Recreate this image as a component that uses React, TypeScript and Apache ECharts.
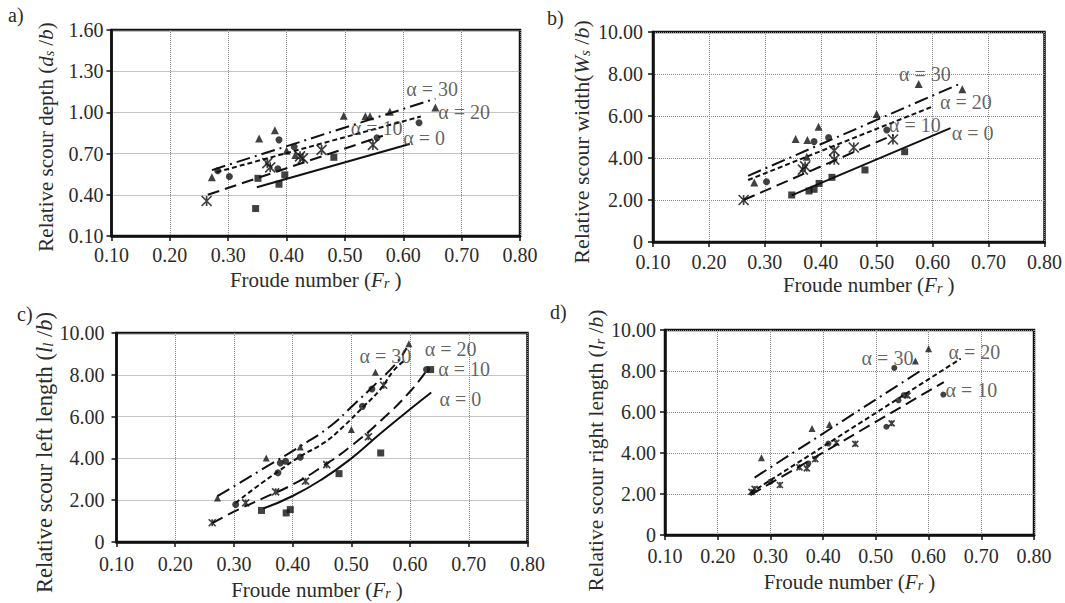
import React, { useEffect, useRef } from "react";
import * as echarts from "echarts";

const FONT = '"Liberation Serif", "DejaVu Serif", "Times New Roman", serif';
const TEXT = "#2b2b2b";
const INK = "#111111";

// ---------- tick values ----------
const depthTicks = [0.1, 0.4, 0.7, 1.0, 1.3, 1.6];

// ---------- a) relative scour depth ----------
const depthA0: number[][] = [[0.347, 0.30], [0.351, 0.52], [0.387, 0.477], [0.397, 0.545], [0.481, 0.673]];
const depthA10: number[][] = [[0.263, 0.355], [0.367, 0.63], [0.372, 0.60], [0.423, 0.68], [0.428, 0.665], [0.46, 0.727], [0.548, 0.763]];
const depthA20: number[][] = [[0.282, 0.575], [0.302, 0.533], [0.385, 0.59], [0.387, 0.80], [0.413, 0.75], [0.555, 0.815], [0.627, 0.925]];
const depthA30: number[][] = [[0.272, 0.528], [0.353, 0.81], [0.38, 0.87], [0.40, 0.72], [0.415, 0.69], [0.498, 0.975], [0.535, 0.972], [0.543, 0.972], [0.577, 1.005], [0.655, 1.035]];
const depthFit0: number[][] = [[0.349, 0.455], [0.611, 0.77]];
const depthFit10: number[][] = [[0.265, 0.40], [0.565, 0.83]];
const depthFit20: number[][] = [[0.28, 0.565], [0.63, 0.97]];
const depthFit30: number[][] = [[0.272, 0.58], [0.655, 1.10]];
const depthLabels = [
  { name: "α = 30", value: [0.605, 1.17] },
  { name: "α = 20", value: [0.66, 1.0] },
  { name: "α = 10", value: [0.51, 0.89] },
  { name: "α = 0", value: [0.60, 0.815] },
];

// ---------- b) relative scour width ----------
const widthB0: number[][] = [[0.348, 2.24], [0.379, 2.43], [0.388, 2.51], [0.397, 2.79], [0.42, 3.08], [0.479, 3.43], [0.55, 4.30]];
const widthB10: number[][] = [[0.262, 2.0], [0.368, 3.45], [0.372, 3.6], [0.424, 3.92], [0.424, 4.35], [0.459, 4.5], [0.529, 4.88]];
const widthB20: number[][] = [[0.303, 2.87], [0.388, 4.78], [0.414, 4.97], [0.518, 5.33]];
const widthB30: number[][] = [[0.281, 2.83], [0.355, 4.9], [0.376, 4.86], [0.375, 4.06], [0.396, 5.49], [0.50, 6.1], [0.575, 7.52], [0.653, 7.27]];
const widthFit0: number[][] = [[0.348, 2.22], [0.632, 5.42]];
const widthFit10: number[][] = [[0.262, 2.0], [0.53, 5.1]];
const widthFit20: number[][] = [[0.27, 2.95], [0.60, 6.45]];
const widthFit30: number[][] = [[0.27, 3.15], [0.65, 7.55]];
const widthLabels = [
  { name: "α = 30", value: [0.54, 8.0] },
  { name: "α = 20", value: [0.613, 6.69] },
  { name: "α = 10", value: [0.522, 5.58] },
  { name: "α = 0", value: [0.634, 5.18] },
];

// ---------- c) relative scour left length ----------
const leftC0: number[][] = [[0.347, 1.51], [0.389, 1.39], [0.396, 1.55], [0.479, 3.27], [0.55, 4.26], [0.635, 8.25]];
const leftC10: number[][] = [[0.263, 0.92], [0.32, 1.87], [0.371, 2.4], [0.422, 2.91], [0.458, 3.7], [0.529, 5.03], [0.555, 7.5]];
const leftC20: number[][] = [[0.303, 1.79], [0.375, 3.31], [0.379, 3.78], [0.388, 3.86], [0.413, 4.06], [0.519, 6.49], [0.535, 7.32], [0.628, 8.25]];
const leftC30: number[][] = [[0.272, 2.11], [0.355, 4.02], [0.413, 4.55], [0.50, 5.38], [0.541, 8.12], [0.598, 9.49]];
const leftFit0: number[][] = [[0.35, 1.6], [0.40, 2.2], [0.45, 3.0], [0.50, 4.0], [0.55, 5.2], [0.60, 6.35], [0.636, 7.15]];
const leftFit10: number[][] = [[0.263, 0.9], [0.30, 1.45], [0.35, 2.1], [0.40, 2.75], [0.45, 3.6], [0.50, 4.6], [0.55, 5.8], [0.60, 7.2], [0.628, 8.2]];
const leftFit20: number[][] = [[0.303, 1.87], [0.34, 2.67], [0.376, 3.39], [0.413, 4.1], [0.453, 4.74], [0.487, 5.54], [0.521, 6.49], [0.549, 7.29], [0.572, 8.2], [0.589, 8.65]];
const leftFit30: number[][] = [[0.272, 2.19], [0.357, 3.63], [0.413, 4.58], [0.464, 5.54], [0.504, 6.57], [0.543, 7.61], [0.577, 8.57], [0.594, 9.28]];
const leftLabels = [
  { name: "α = 30", value: [0.514, 8.9] },
  { name: "α = 20", value: [0.625, 9.25] },
  { name: "α = 10", value: [0.648, 8.3] },
  { name: "α = 0", value: [0.65, 6.82] },
];

// ---------- d) relative scour right length ----------
const rightD10: number[][] = [[0.264, 2.1], [0.27, 2.25], [0.318, 2.44], [0.355, 3.3], [0.369, 3.25], [0.385, 3.7], [0.425, 4.5], [0.461, 4.45], [0.53, 5.45], [0.56, 6.8]];
const rightD20: number[][] = [[0.30, 2.6], [0.372, 3.49], [0.41, 4.46], [0.52, 5.28], [0.543, 6.57], [0.553, 6.82], [0.535, 8.15], [0.628, 6.85]];
const rightD30: number[][] = [[0.283, 3.77], [0.379, 5.19], [0.412, 5.39], [0.575, 8.49], [0.60, 9.09]];
const rightFit10: number[][] = [[0.262, 1.95], [0.629, 7.46]];
const rightFit20: number[][] = [[0.262, 2.05], [0.661, 8.6]];
const rightFit30: number[][] = [[0.27, 2.8], [0.59, 8.1]];
const rightLabels = [
  { name: "α = 30", value: [0.473, 8.64] },
  { name: "α = 20", value: [0.638, 8.94] },
  { name: "α = 10", value: [0.632, 7.08] },
];

// ---------- styles ----------
const STAR = "path://M0,0L10,10M10,0L0,10M5,0L5,10";
const DASH10 = [12, 6];
const DASH20 = [5, 3];
const DASH30 = [14, 5, 2, 5];
const TICK_SIZE = 20;
const TITLE_SIZE = 21;

function richName(size: number) {
  return {
    it: { fontFamily: FONT, fontSize: size, fontStyle: "italic", color: TEXT },
    sub: { fontFamily: FONT, fontSize: Math.round(size * 0.66), fontStyle: "italic", color: TEXT, verticalAlign: "bottom" },
  };
}

function scatter(idx: number, data: number[][], kind: string, size: number) {
  const base: any = {
    type: "scatter",
    xAxisIndex: idx,
    yAxisIndex: idx,
    data,
    symbolSize: size,
    silent: true,
    z: 4,
  };
  if (kind === "star") {
    base.symbol = STAR;
    base.itemStyle = { color: "rgba(0,0,0,0)", borderColor: INK, borderWidth: 1.7 };
  } else {
    base.symbol = kind;
    base.itemStyle = { color: INK };
  }
  return base;
}

function fit(idx: number, data: number[][], dash: any, smooth = false) {
  return {
    type: "line",
    xAxisIndex: idx,
    yAxisIndex: idx,
    data,
    showSymbol: false,
    smooth,
    silent: true,
    z: 3,
    lineStyle: { color: INK, width: 2, type: dash },
  };
}

function labels(idx: number, data: any[]) {
  return {
    type: "scatter",
    xAxisIndex: idx,
    yAxisIndex: idx,
    data,
    symbolSize: 0,
    silent: true,
    z: 5,
    label: {
      show: true,
      position: "right",
      distance: 0,
      formatter: "{b}",
      fontFamily: FONT,
      fontSize: 20,
      lineHeight: 17,
      color: "#3a3a3a",
    },
  };
}

function xAxis(idx: number, margin: number, nameGap: number, shift: number) {
  return {
    type: "value",
    gridIndex: idx,
    min: 0.1,
    max: 0.8,
    interval: 0.1,
    name: "Froude number ({it|F}{sub|r} )",
    nameLocation: "middle",
    nameGap,
    nameTextStyle: {
      fontFamily: FONT,
      fontSize: TITLE_SIZE,
      color: TEXT,
      rich: richName(TITLE_SIZE),
      padding: shift >= 0 ? [0, 0, 0, shift * 2] : [0, -shift * 2, 0, 0],
    },
    axisLine: { show: true, onZero: false, lineStyle: { color: INK, width: 2.5 } },
    axisTick: { show: true, length: 5, lineStyle: { color: INK, width: 1.5 } },
    axisLabel: {
      formatter: (v: number) => v.toFixed(2),
      fontFamily: FONT,
      fontSize: TICK_SIZE,
      color: TEXT,
      margin,
    },
    splitLine: { show: true, lineStyle: { type: "dotted", color: "#8a8a8a", width: 1 } },
  };
}

// shiftDown: how far the rotated title sits below the middle of the axis
function yAxis(idx: number, name: string, nameGap: number, margin: number, size: number, shiftDown: number, depth = false) {
  const ax: any = {
    type: "value",
    gridIndex: idx,
    name,
    nameLocation: "middle",
    nameGap,
    nameTextStyle: {
      fontFamily: FONT,
      fontSize: size,
      color: TEXT,
      rich: richName(size),
      padding: [0, shiftDown * 2, 0, 0],
    },
    axisLine: { show: true, onZero: false, lineStyle: { color: INK, width: 2.5 } },
    axisTick: { show: true, length: 5, lineStyle: { color: INK, width: 1.5 } },
    axisLabel: {
      fontFamily: FONT,
      fontSize: TICK_SIZE,
      color: TEXT,
      margin,
      formatter: (v: number) => (v === 0 ? "0" : v.toFixed(2)),
    },
    splitLine: { show: true, lineStyle: { type: "dotted", color: "#8a8a8a", width: 1 } },
  };
  if (depth) {
    ax.min = 0.1;
    ax.max = 1.6;
    ax.axisLabel.customValues = depthTicks;
    ax.axisTick.customValues = depthTicks;
  } else {
    ax.min = 0;
    ax.max = 10;
    ax.interval = 2;
  }
  return ax;
}

export default function App() {
  const ref = useRef<HTMLDivElement>(null);

  useEffect(() => {
    if (!ref.current) return;
    const chart = echarts.init(ref.current, undefined, { renderer: "svg" });
    const gridBase = { show: true, borderColor: INK, borderWidth: 2.5, containLabel: false };
    const option: any = {
      animation: false,
      backgroundColor: "#ffffff",
      grid: [
        { ...gridBase, left: 111.5, top: 30, width: 408.5, height: 206 },
        { ...gridBase, left: 653, top: 32, width: 396.5, height: 210 },
        { ...gridBase, left: 116.5, top: 333, width: 411, height: 209 },
        { ...gridBase, left: 665, top: 330, width: 369, height: 205 },
      ],
      xAxis: [
        xAxis(0, 9, 33, 0),
        xAxis(1, 10, 32, 20),
        xAxis(2, 12, 37, -5),
        xAxis(3, 11, 36, 0),
      ],
      yAxis: [
        yAxis(0, "Relative scour depth ({it|d}{sub|s} /{it|b})", 55, 8, 21, 4, true),
        yAxis(1, "Relative scour width({it|W}{sub|s} /{it|b})", 61, 10, 22, 5),
        yAxis(2, "Relative scour left length ({it|l}{sub|l} /{it|b})", 56, 12, 22.5, 15),
        yAxis(3, "Relative scour right length ({it|l}{sub|r} /{it|b})", 56, 9, 21.5, 18),
      ],
      graphic: [
        { type: "text", left: 8, top: 5, style: { text: "a)", font: `20px ${FONT}`, fill: TEXT } },
        { type: "text", left: 547, top: 8, style: { text: "b)", font: `20px ${FONT}`, fill: TEXT } },
        { type: "text", left: 17, top: 304, style: { text: "c)", font: `20px ${FONT}`, fill: TEXT } },
        { type: "text", left: 550, top: 302, style: { text: "d)", font: `20px ${FONT}`, fill: TEXT } },
      ],
      series: [
        // a
        fit(0, depthFit0, "solid"),
        fit(0, depthFit10, DASH10),
        fit(0, depthFit20, DASH20),
        fit(0, depthFit30, DASH30),
        scatter(0, depthA0, "rect", 7),
        scatter(0, depthA10, "star", 10),
        scatter(0, depthA20, "circle", 7),
        scatter(0, depthA30, "triangle", 8),
        labels(0, depthLabels),
        // b
        fit(1, widthFit0, "solid"),
        fit(1, widthFit10, DASH10),
        fit(1, widthFit20, DASH20),
        fit(1, widthFit30, DASH30),
        scatter(1, widthB0, "rect", 7),
        scatter(1, widthB10, "star", 10),
        scatter(1, widthB20, "circle", 7),
        scatter(1, widthB30, "triangle", 8),
        labels(1, widthLabels),
        // c
        fit(2, leftFit0, "solid", true),
        fit(2, leftFit10, DASH10, true),
        fit(2, leftFit20, DASH20, true),
        fit(2, leftFit30, DASH30, true),
        scatter(2, leftC0, "rect", 7),
        scatter(2, leftC10, "star", 7),
        scatter(2, leftC20, "circle", 7),
        scatter(2, leftC30, "triangle", 7),
        labels(2, leftLabels),
        // d
        fit(3, rightFit10, DASH10),
        fit(3, rightFit20, DASH20),
        fit(3, rightFit30, DASH30),
        scatter(3, rightD10, "star", 6),
        scatter(3, rightD20, "circle", 6),
        scatter(3, rightD30, "triangle", 7),
        labels(3, rightLabels),
      ],
    };
    chart.setOption(option);
    return () => chart.dispose();
  }, []);

  return (
    <div
      ref={ref}
      style={{ position: "absolute", left: 0, top: 0, width: 1065, height: 603, background: "#fff" }}
    />
  );
}
